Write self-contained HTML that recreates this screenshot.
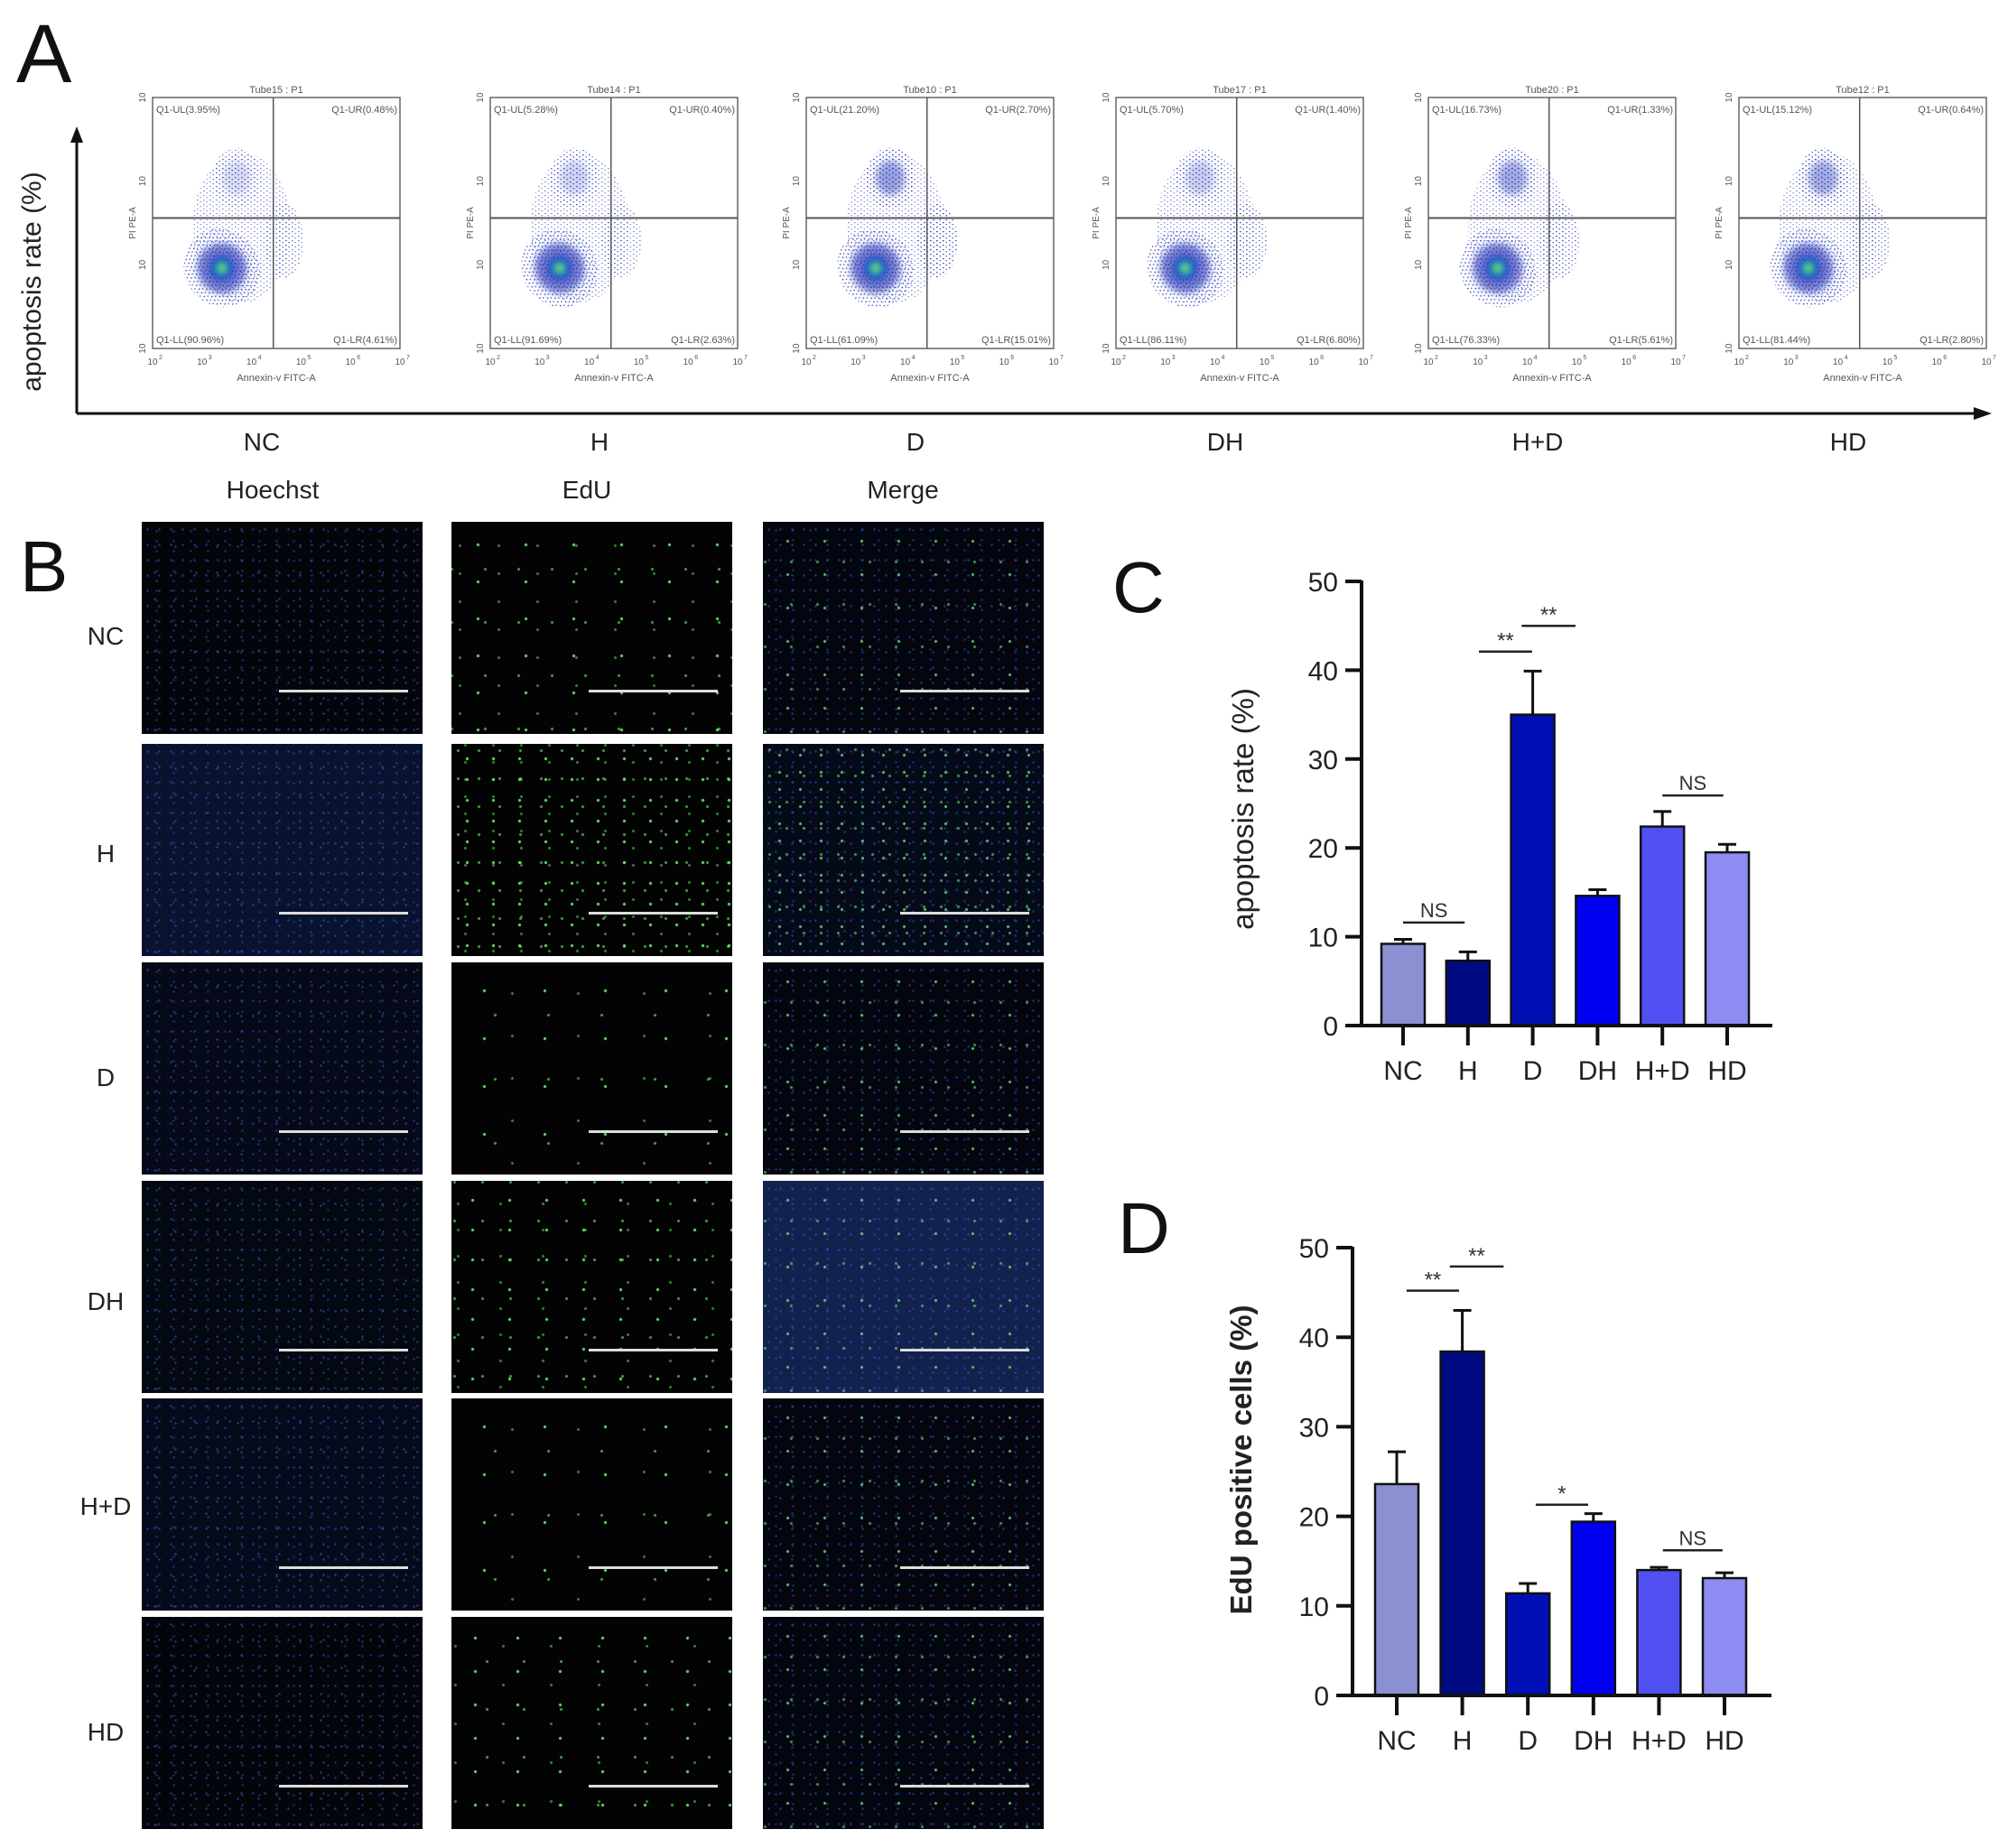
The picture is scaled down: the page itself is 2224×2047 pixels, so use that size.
<!DOCTYPE html>
<html><head><meta charset="utf-8">
<style>
html,body{margin:0;padding:0;background:#fff;}
body{width:2224px;height:2047px;position:relative;overflow:hidden;font-family:"Liberation Sans",Arial,sans-serif;}
.abs{position:absolute;}
.img{position:absolute;width:311px;height:235px;}
.lbl{position:absolute;font-size:28px;color:#222;transform:translate(-50%,-50%);white-space:nowrap;}
.hoe{background-color:#03050b;background-image:radial-gradient(circle,rgba(60,90,200,.55) 0.8px,transparent 1.7px),radial-gradient(circle,rgba(60,90,200,.45) 0.8px,transparent 1.7px),radial-gradient(circle,rgba(70,100,210,.5) 0.8px,transparent 1.7px);background-size:13px 17px,19px 11px,23px 29px;background-position:0 0,7px 5px,3px 13px;}
.edu{background-color:#020302;background-image:radial-gradient(circle,rgba(110,240,110,.9) 1.1px,transparent 2.1px),radial-gradient(circle,rgba(90,220,90,.75) 1px,transparent 2px),radial-gradient(circle,rgba(90,220,90,.6) 1px,transparent 2px);background-size:53px 41px,37px 59px,43px 31px;background-position:3px 5px,19px 23px,31px 11px;}
.mer{background-color:#03060f;background-image:radial-gradient(circle,rgba(120,240,130,.8) 1px,transparent 2px),radial-gradient(circle,rgba(120,240,130,.6) 1px,transparent 2px),radial-gradient(circle,rgba(60,90,200,.55) 0.8px,transparent 1.7px),radial-gradient(circle,rgba(60,90,200,.45) 0.8px,transparent 1.7px);background-size:41px 37px,29px 47px,13px 17px,19px 11px;background-position:7px 3px,17px 21px,0 0,5px 4px;}
.dense{background-size:29px 23px,23px 31px,31px 19px;}
.merdense{background-size:23px 19px,19px 29px,13px 17px,19px 11px;}
.bar{position:absolute;left:49%;width:46%;top:79%;height:3px;background:#ddd;}
</style></head>
<body>
<div class="abs" style="left:18px;top:8px;font-size:92px;color:#111;">A</div>
<div class="abs" style="left:22px;top:582px;font-size:80px;color:#111;">B</div>
<div class="abs" style="left:1232px;top:605px;font-size:80px;color:#111;">C</div>
<div class="abs" style="left:1238px;top:1315px;font-size:80px;color:#111;">D</div>

<svg class="abs" style="left:0;top:0" width="2224" height="540" id="flowsvg">
<defs>
<filter id="bl" x="-50%" y="-50%" width="200%" height="200%"><feGaussianBlur stdDeviation="4"/></filter>
<filter id="bl2" x="-50%" y="-50%" width="200%" height="200%"><feGaussianBlur stdDeviation="3"/></filter>
<pattern id="dots" width="7" height="5" patternUnits="userSpaceOnUse"><rect x="1" y="1" width="1.6" height="1.2" fill="#2a3ab8"/><rect x="4.5" y="3" width="1.4" height="1.2" fill="#3545c0"/></pattern>
<mask id="dm"><rect x="0" y="0" width="2224" height="540" fill="url(#dotsw)"/></mask>
<radialGradient id="core"><stop offset="0" stop-color="#9be04a"/><stop offset="0.3" stop-color="#2cb0a0"/><stop offset="0.6" stop-color="#1a50c8"/><stop offset="1" stop-color="#2030c0" stop-opacity="0"/></radialGradient>
</defs>
<line x1="85" y1="458" x2="85" y2="150" stroke="#111" stroke-width="3"/>
<polygon points="85,140 78,158 92,158" fill="#111"/>
<line x1="85" y1="458" x2="2190" y2="458" stroke="#111" stroke-width="3"/>
<polygon points="2206,458 2186,451 2186,465" fill="#111"/>
<text x="0" y="0" transform="translate(45,312) rotate(-90)" text-anchor="middle" font-size="30" fill="#222">apoptosis rate (%)</text>
</svg>

<script>
const flowGroups=["NC","H","D","DH","H+D","HD"];
const flowTubes=["Tube15 : P1","Tube14 : P1","Tube10 : P1","Tube17 : P1","Tube20 : P1","Tube12 : P1"];
const flowUL=["3.95","5.28","21.20","5.70","16.73","15.12"];
const flowUR=["0.48","0.40","2.70","1.40","1.33","0.64"];
const flowLL=["90.96","91.69","61.09","86.11","76.33","81.44"];
const flowLR=["4.61","2.63","15.01","6.80","5.61","2.80"];
const flowLeft=[169,543,893,1236,1582,1926];
const flowUpperStrength=[0.35,0.45,0.95,0.5,0.85,0.85];
const flowRightStrength=[0.5,0.4,0.85,0.6,0.55,0.5];
(function(){
const svg=document.getElementById('flowsvg');const NS='http://www.w3.org/2000/svg';
function mk(t,a,p){const e=document.createElementNS(NS,t);for(const k in a)e.setAttribute(k,a[k]);(p||svg).appendChild(e);return e;}
const W=274,H=278,top=108;
flowGroups.forEach((g,i)=>{
 const L=flowLeft[i];
 const grp=mk('g',{});
 
 
 const us=flowUpperStrength[i],rs=flowRightStrength[i];
 mk('ellipse',{cx:L+W*0.36,cy:top+H*0.52,rx:W*0.2,ry:H*0.3,fill:'url(#dots)',opacity:0.6},grp);
 mk('ellipse',{cx:L+W*0.34,cy:top+H*0.32,rx:W*0.1,ry:H*0.12,fill:'url(#dots)',opacity:0.4+us*0.6},grp);
 mk('ellipse',{cx:L+W*0.34,cy:top+H*0.32,rx:W*0.06,ry:H*0.07,fill:'#2a3ab8',opacity:us*0.5,filter:'url(#bl)'},grp);
 mk('ellipse',{cx:L+W*0.53,cy:top+H*0.57,rx:W*0.08,ry:H*0.15,fill:'url(#dots)',opacity:0.4+rs*0.6},grp);
 mk('ellipse',{cx:L+W*0.28,cy:top+H*0.68,rx:W*0.15,ry:H*0.16,fill:'url(#dots)',transform:`rotate(-35 ${L+W*0.28} ${top+H*0.68})`},grp);
 mk('ellipse',{cx:L+W*0.28,cy:top+H*0.68,rx:W*0.1,ry:H*0.1,fill:'#1c2ab0',opacity:0.6,filter:'url(#bl)',transform:`rotate(-35 ${L+W*0.28} ${top+H*0.68})`},grp);
 mk('ellipse',{cx:L+W*0.28,cy:top+H*0.68,rx:W*0.06,ry:H*0.06,fill:'url(#core)',filter:'url(#bl2)'},grp);
 mk('rect',{x:L,y:top,width:W,height:H,fill:'none',stroke:'#666','stroke-width':1.5},grp);
 mk('line',{x1:L+W*0.488,y1:top,x2:L+W*0.488,y2:top+H,stroke:'#555','stroke-width':1.5},grp);
 mk('line',{x1:L,y1:top+H*0.48,x2:L+W,y2:top+H*0.48,stroke:'#555','stroke-width':2},grp);
 const tx=(x,y,s,fs,anc,extra)=>{const t=mk('text',Object.assign({x:x,y:y,'font-size':fs,fill:'#555','text-anchor':anc||'start'},extra||{}),grp);t.textContent=s;return t;};
 tx(L+W/2,top-5,flowTubes[i],11,'middle');
 tx(L+4,top+17,'Q1-UL('+flowUL[i]+'%)',11);
 tx(L+W-3,top+17,'Q1-UR('+flowUR[i]+'%)',11,'end');
 tx(L+4,top+H-6,'Q1-LL('+flowLL[i]+'%)',11);
 tx(L+W-3,top+H-6,'Q1-LR('+flowLR[i]+'%)',11,'end');
 for(let k=0;k<6;k++){tx(L+W*k/5,top+H+18,'10',10,'middle');tx(L+W*k/5+7,top+H+12,String(k+2),7);}
 for(let k=0;k<4;k++){const yy=top+H-H*k/3;tx(0,0,'10',10,'middle',{transform:`translate(${L-8},${yy}) rotate(-90)`});}
 tx(L+W/2,top+H+36,'Annexin-v FITC-A',11,'middle');
 tx(0,0,'PI PE-A',10,'middle',{transform:`translate(${L-19},${top+H/2}) rotate(-90)`});
 const gl=mk('text',{x:L+W/2-16,y:499,'font-size':28,fill:'#222','text-anchor':'middle'});
 gl.textContent=g;
 
 
});
})();
</script>

<div class="lbl" style="left:302px;top:543px;">Hoechst</div>
<div class="lbl" style="left:650px;top:543px;">EdU</div>
<div class="lbl" style="left:1000px;top:543px;">Merge</div>

<div class="lbl" style="left:117px;top:705px;">NC</div>
<div class="lbl" style="left:117px;top:946px;">H</div>
<div class="lbl" style="left:117px;top:1194px;">D</div>
<div class="lbl" style="left:117px;top:1442px;">DH</div>
<div class="lbl" style="left:117px;top:1669px;">H+D</div>
<div class="lbl" style="left:117px;top:1919px;">HD</div>

<div class="img hoe" style="left:157px;top:578px;"><div class="bar"></div></div>
<div class="img edu" style="left:500px;top:578px;"><div class="bar"></div></div>
<div class="img mer" style="left:845px;top:578px;"><div class="bar"></div></div>

<div class="img hoe" style="left:157px;top:824px;background-color:#091330;"><div class="bar"></div></div>
<div class="img edu dense" style="left:500px;top:824px;"><div class="bar"></div></div>
<div class="img mer merdense" style="left:845px;top:824px;background-color:#050a18;"><div class="bar"></div></div>

<div class="img hoe" style="left:157px;top:1066px;background-color:#050918;"><div class="bar"></div></div>
<div class="img edu" style="left:500px;top:1066px;background-size:67px 53px,59px 71px,73px 47px;"><div class="bar"></div></div>
<div class="img mer" style="left:845px;top:1066px;"><div class="bar"></div></div>

<div class="img hoe" style="left:157px;top:1308px;background-color:#040812;"><div class="bar"></div></div>
<div class="img edu" style="left:500px;top:1308px;background-size:41px 33px,31px 43px,47px 29px;"><div class="bar"></div></div>
<div class="img mer" style="left:845px;top:1308px;background-color:#13214f;"><div class="bar"></div></div>

<div class="img hoe" style="left:157px;top:1549px;background-color:#060b1c;"><div class="bar"></div></div>
<div class="img edu" style="left:500px;top:1549px;background-size:67px 53px,59px 71px,73px 47px;"><div class="bar"></div></div>
<div class="img mer" style="left:845px;top:1549px;"><div class="bar"></div></div>

<div class="img hoe" style="left:157px;top:1791px;"><div class="bar"></div></div>
<div class="img edu" style="left:500px;top:1791px;background-size:47px 37px,41px 53px,53px 43px;"><div class="bar"></div></div>
<div class="img mer" style="left:845px;top:1791px;"><div class="bar"></div></div>

<svg class="abs" style="left:0;top:0" width="2224" height="2047" id="barsvg"></svg>
<script>
const categories=["NC","H","D","DH","H+D","HD"];
const barColors=["#8a90d2","#000a82","#0010b4","#0000f2","#5050f2","#8c8cf2"];
const apopMean=[9.2,7.3,35.0,14.6,22.4,19.5];
const apopErr=[0.5,1.0,4.9,0.7,1.7,0.9];
const apopSig=[{a:0,b:0.95,y:11.6,t:"NS"},{a:1.17,b:1.99,y:42.1,t:"**"},{a:1.83,b:2.66,y:45.0,t:"**"},{a:4,b:4.94,y:25.9,t:"NS"}];
const eduMean=[23.6,38.4,11.4,19.4,14.0,13.1];
const eduErr=[3.6,4.6,1.1,0.9,0.3,0.6];
const eduSig=[{a:0.15,b:0.95,y:45.2,t:"**"},{a:0.81,b:1.63,y:47.9,t:"**"},{a:2.12,b:2.92,y:21.3,t:"*"},{a:4.06,b:4.97,y:16.2,t:"NS"}];
const yTicks=[0,10,20,30,40,50];
(function(){
const svg=document.getElementById('barsvg');const NS='http://www.w3.org/2000/svg';
function mk(t,a,p){const e=document.createElementNS(NS,t);for(const k in a)e.setAttribute(k,a[k]);(p||svg).appendChild(e);return e;}
function chart(cfg){
 const g=mk('g',{});
 
 
 const y=v=>cfg.y0-(cfg.y0-cfg.y50)*v/50;
 const x=i=>cfg.x0+cfg.dx*i;
 cfg.mean.forEach((m,i)=>{
  const top=y(m+cfg.err[i]);
  const el=mk('line',{x1:x(i),x2:x(i),y1:y(m),y2:top,stroke:'#111','stroke-width':3},g);
  
  
  mk('line',{x1:x(i)-10,x2:x(i)+10,y1:top,y2:top,stroke:'#111','stroke-width':3},g);
  const r=mk('rect',{x:x(i)-24,y:y(m),width:48,height:y(0)-y(m),fill:barColors[i],stroke:'#111','stroke-width':2.5},g);
  
  
 });
 mk('line',{x1:cfg.ax,x2:cfg.ax,y1:y(50)-1,y2:y(0)+2,stroke:'#111','stroke-width':4},g);
 mk('line',{x1:cfg.ax-18,x2:cfg.xend,y1:y(0),y2:y(0),stroke:'#111','stroke-width':4},g);
 yTicks.forEach(v=>{
  mk('line',{x1:cfg.ax-18,x2:cfg.ax,y1:y(v),y2:y(v),stroke:'#111','stroke-width':4},g);
  const t=mk('text',{x:cfg.ax-26,y:y(v)+11,'text-anchor':'end','font-size':30,fill:'#222','font-family':'Liberation Sans Narrow, Liberation Sans, sans-serif'},g);
  t.textContent=v;
  
  
 });
 categories.forEach((c,i)=>{
  mk('line',{x1:x(i),x2:x(i),y1:y(0),y2:y(0)+22,stroke:'#111','stroke-width':4},g);
  const t=mk('text',{x:x(i),y:y(0)+60,'text-anchor':'middle','font-size':30,fill:'#222','font-family':'Liberation Sans Narrow, Liberation Sans, sans-serif'},g);
  t.textContent=c;
  
  
 });
 cfg.sig.forEach(s=>{
  const x1=x(s.a),x2=x(s.b);
  mk('line',{x1:x1,x2:x2,y1:y(s.y),y2:y(s.y),stroke:'#222','stroke-width':2.5},g);
  const t=mk('text',{x:(x1+x2)/2,y:y(s.y)-(s.t==='NS'?6:4),'text-anchor':'middle','font-size':s.t==='NS'?22:24,fill:'#333','font-family':'Liberation Sans Narrow, Liberation Sans, sans-serif'},g);
  t.textContent=s.t;
  
  
 });
 const tt=mk('text',{x:0,y:0,transform:`translate(${cfg.tx},${cfg.ty}) rotate(-90)`,'text-anchor':'middle','font-size':cfg.tfs,fill:'#222','font-weight':cfg.bold?'bold':'normal'},g);
 tt.textContent=cfg.title;
 
 
}
chart({name:'chart-c-apoptosis',y0:1136,y50:644,x0:1554,dx:71.8,ax:1508,xend:1963,mean:apopMean,err:apopErr,sig:apopSig,title:'apoptosis rate (%)',tx:1388,ty:896,tfs:33,bold:false});
chart({name:'chart-d-edu',y0:1878,y50:1382,x0:1547,dx:72.6,ax:1498,xend:1962,mean:eduMean,err:eduErr,sig:eduSig,title:'EdU positive cells (%)',tx:1386,ty:1617,tfs:33,bold:true});
})();
</script>
</body></html>
